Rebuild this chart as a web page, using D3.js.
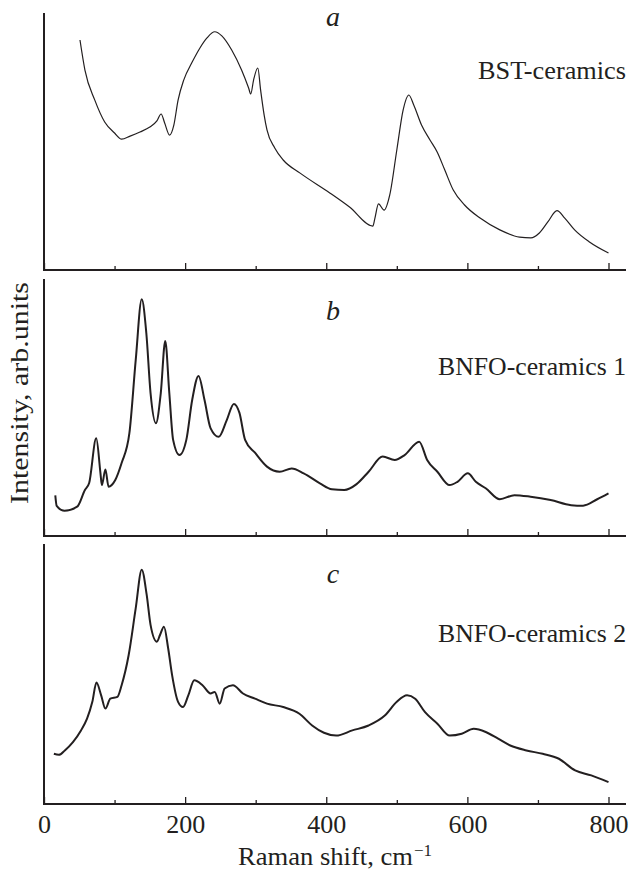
<!DOCTYPE html>
<html><head><meta charset="utf-8">
<script src="https://cdn.jsdelivr.net/npm/d3@7"></script>
<style>html,body{margin:0;padding:0;background:#fff;}svg{display:block;}</style>
</head><body>
<script>
// Panel a: BST-ceramics  [wavenumber, relative intensity 0..100]
const bstX = [51,58,72,86,100,110,122,136,150,160,166,171,178,184,190,198,210,221,231,242,252,266,280,290,293,297,303,307,312,316,327,339,363,405,433,466,469,474,482,490,500,509,517,524,535,547,557,568,580,596,618,646,674,690,702,714,727,738,752,773,800];
const bstY = [89.5,77.8,66.1,57.6,53.3,50.9,52.1,53.7,55.6,58,60.7,57.2,52.5,56.4,66.1,73.9,80.9,86.4,90.3,92.7,91.1,85.6,77.8,70.8,68.5,73.9,78.6,70,60.3,54.5,47.5,42.8,37.7,30,24.5,17.1,20.2,25.7,23.3,29.2,46.7,62.3,68.1,64.2,56.4,50.6,46,38.9,31.1,25.3,20.2,15.6,12.8,12.5,14.4,18.7,23.1,20.2,15.6,10.9,6.6];
// Panel b: BNFO-ceramics 1
const bnfo1X = [16,18,29,47,58,64,74,80,82,87,91.5,101,110,121,130,138.5,145,151,158.6,165.5,171.8,177.6,183,192,201.7,210,219,227.5,236,247.6,259,269,277,285,299,316,334,351,368,391,408,425.5,443,460,480,497,511,531.7,543,557.5,574.8,586,600.6,612,626,646,666.6,689.5,718,747,764,784,800];
const bnfo1Y = [15.8,11.7,9.8,11.4,17.9,20.6,38,24.5,19.8,25.9,19.2,21.8,28.4,40,68.5,92.1,79,55.6,43.9,55.6,75.9,55.6,37.4,31.5,37.4,52.9,62.3,52.9,42,38.6,45.1,51.4,47.9,37.4,32.4,27,25,26.3,24.4,20.5,18.2,17.9,20.2,25,30.9,29.6,31.5,36.7,29.6,25,19.8,21.1,24.4,21.1,18.6,14.3,15.9,15.3,14,12,11.8,14.3,16.6];
// Panel c: BNFO-ceramics 2
const bnfo2X = [14,21,29.5,41,52.4,61,68.5,74.3,81,87,94,104,110,120,130,138.5,145.5,151,160,164.4,170,176,181.6,190,197,204.5,213,224.6,236,242,249,256,267.7,282,299,316,339,362,380,396.7,414,437,460,483,500,514.5,526,540,557.5,575,592,609,626,643.6,660.8,683.7,706.8,729.7,752.7,775.6,800];
const bnfo2Y = [19.3,18.9,20.6,23.8,28.3,32.8,39.3,46.7,41.8,36.7,40.5,41.2,45.7,57.3,75.3,90.1,80.5,68.9,62.4,65,68.2,59.8,49.5,39.3,37.3,41.8,47.6,45.7,42.5,43.1,38.6,44.4,45.7,42.5,40.5,38.6,37.3,34.7,30.2,27.4,26.3,28.3,30.2,34,39.3,41.8,40.5,35.3,30.9,26.3,27,28.9,27.7,25.1,22.5,20.6,19.3,17.4,12.9,11,8.4];

const panelLabels = ["a","b","c"];
const sampleNames = ["BST-ceramics","BNFO-ceramics 1","BNFO-ceramics 2"];
const majorTicks = [0,200,400,600,800];
const minorTicks = [100,300,500,700];

const W = 632, H = 870;
const ink = "#231f20";
const font = "'Liberation Serif', 'Times New Roman', serif";

const svg = d3.select("body").append("svg").attr("width", W).attr("height", H);

const x = d3.scaleLinear().domain([0, 800]).range([44, 608.5]);
const axisEnd = 626;

const panels = [
  {top: 13, bottom: 270, xs: bstX, ys: bstY, sw: 1.2, nameY: 79, nameLen: 148, letterY: 26},
  {top: 279, bottom: 536, xs: bnfo1X, ys: bnfo1Y, sw: 2.0, nameY: 375, nameLen: 188, letterY: 320},
  {top: 544, bottom: 804, xs: bnfo2X, ys: bnfo2Y, sw: 2.0, nameY: 642, nameLen: 188, letterY: 583}
];

panels.forEach((p, i) => {
  const y = d3.scaleLinear().domain([0, 100]).range([p.bottom, p.top]);
  const g = svg.append("g");
  g.append("line").attr("x1", x(0)).attr("x2", x(0)).attr("y1", p.top).attr("y2", p.bottom + 1)
    .attr("stroke", ink).attr("stroke-width", 2);
  g.append("line").attr("x1", x(0) - 1).attr("x2", axisEnd).attr("y1", p.bottom).attr("y2", p.bottom)
    .attr("stroke", ink).attr("stroke-width", 2);
  const major = d3.axisBottom(x).tickValues(majorTicks).tickSize(-7).tickFormat(i === 2 ? d3.format("d") : "");
  const minor = d3.axisBottom(x).tickValues(minorTicks).tickSize(-4).tickFormat("");
  const ga = g.append("g").attr("transform", `translate(0,${p.bottom})`).call(major);
  const gm = g.append("g").attr("transform", `translate(0,${p.bottom})`).call(minor);
  [ga, gm].forEach(s => {
    s.select(".domain").remove();
    s.selectAll(".tick line").attr("stroke", ink).attr("stroke-width", 1.3);
  });
  ga.selectAll(".tick text").attr("fill", ink).attr("font-family", font).attr("font-size", 26)
    .attr("y", 29).attr("dy", null);

  const data = p.xs.map((d, k) => [d, p.ys[k]]);
  const line = d3.line().x(d => x(d[0])).y(d => y(d[1])).curve(d3.curveMonotoneX);
  g.append("path").datum(data).attr("d", line).attr("fill", "none")
    .attr("stroke", ink).attr("stroke-width", p.sw).attr("stroke-linejoin", "round");

  g.append("text").attr("x", 333).attr("y", p.letterY)
    .attr("text-anchor", "middle").attr("font-family", font).attr("font-style", "italic")
    .attr("font-size", 28).attr("fill", ink).text(panelLabels[i]);
  g.append("text").attr("x", 626).attr("y", p.nameY).attr("text-anchor", "end")
    .attr("font-family", font).attr("font-size", 25).attr("fill", ink)
    .attr("textLength", p.nameLen).attr("lengthAdjust", "spacingAndGlyphs").text(sampleNames[i]);
});

// axis titles
const xt = svg.append("text").attr("x", 238).attr("y", 865)
  .attr("font-family", font).attr("font-size", 25).attr("fill", ink);
xt.append("tspan").attr("textLength", 175).attr("lengthAdjust", "spacingAndGlyphs").text("Raman shift, cm");
xt.append("tspan").attr("dy", -9).attr("dx", 1).attr("font-size", 17).text("\u22121");

svg.append("text").attr("transform", "translate(28,393) rotate(-90)").attr("text-anchor", "middle")
  .attr("font-family", font).attr("font-size", 25).attr("fill", ink)
  .attr("textLength", 222).attr("lengthAdjust", "spacingAndGlyphs").text("Intensity, arb.units");
</script>
</body></html>
